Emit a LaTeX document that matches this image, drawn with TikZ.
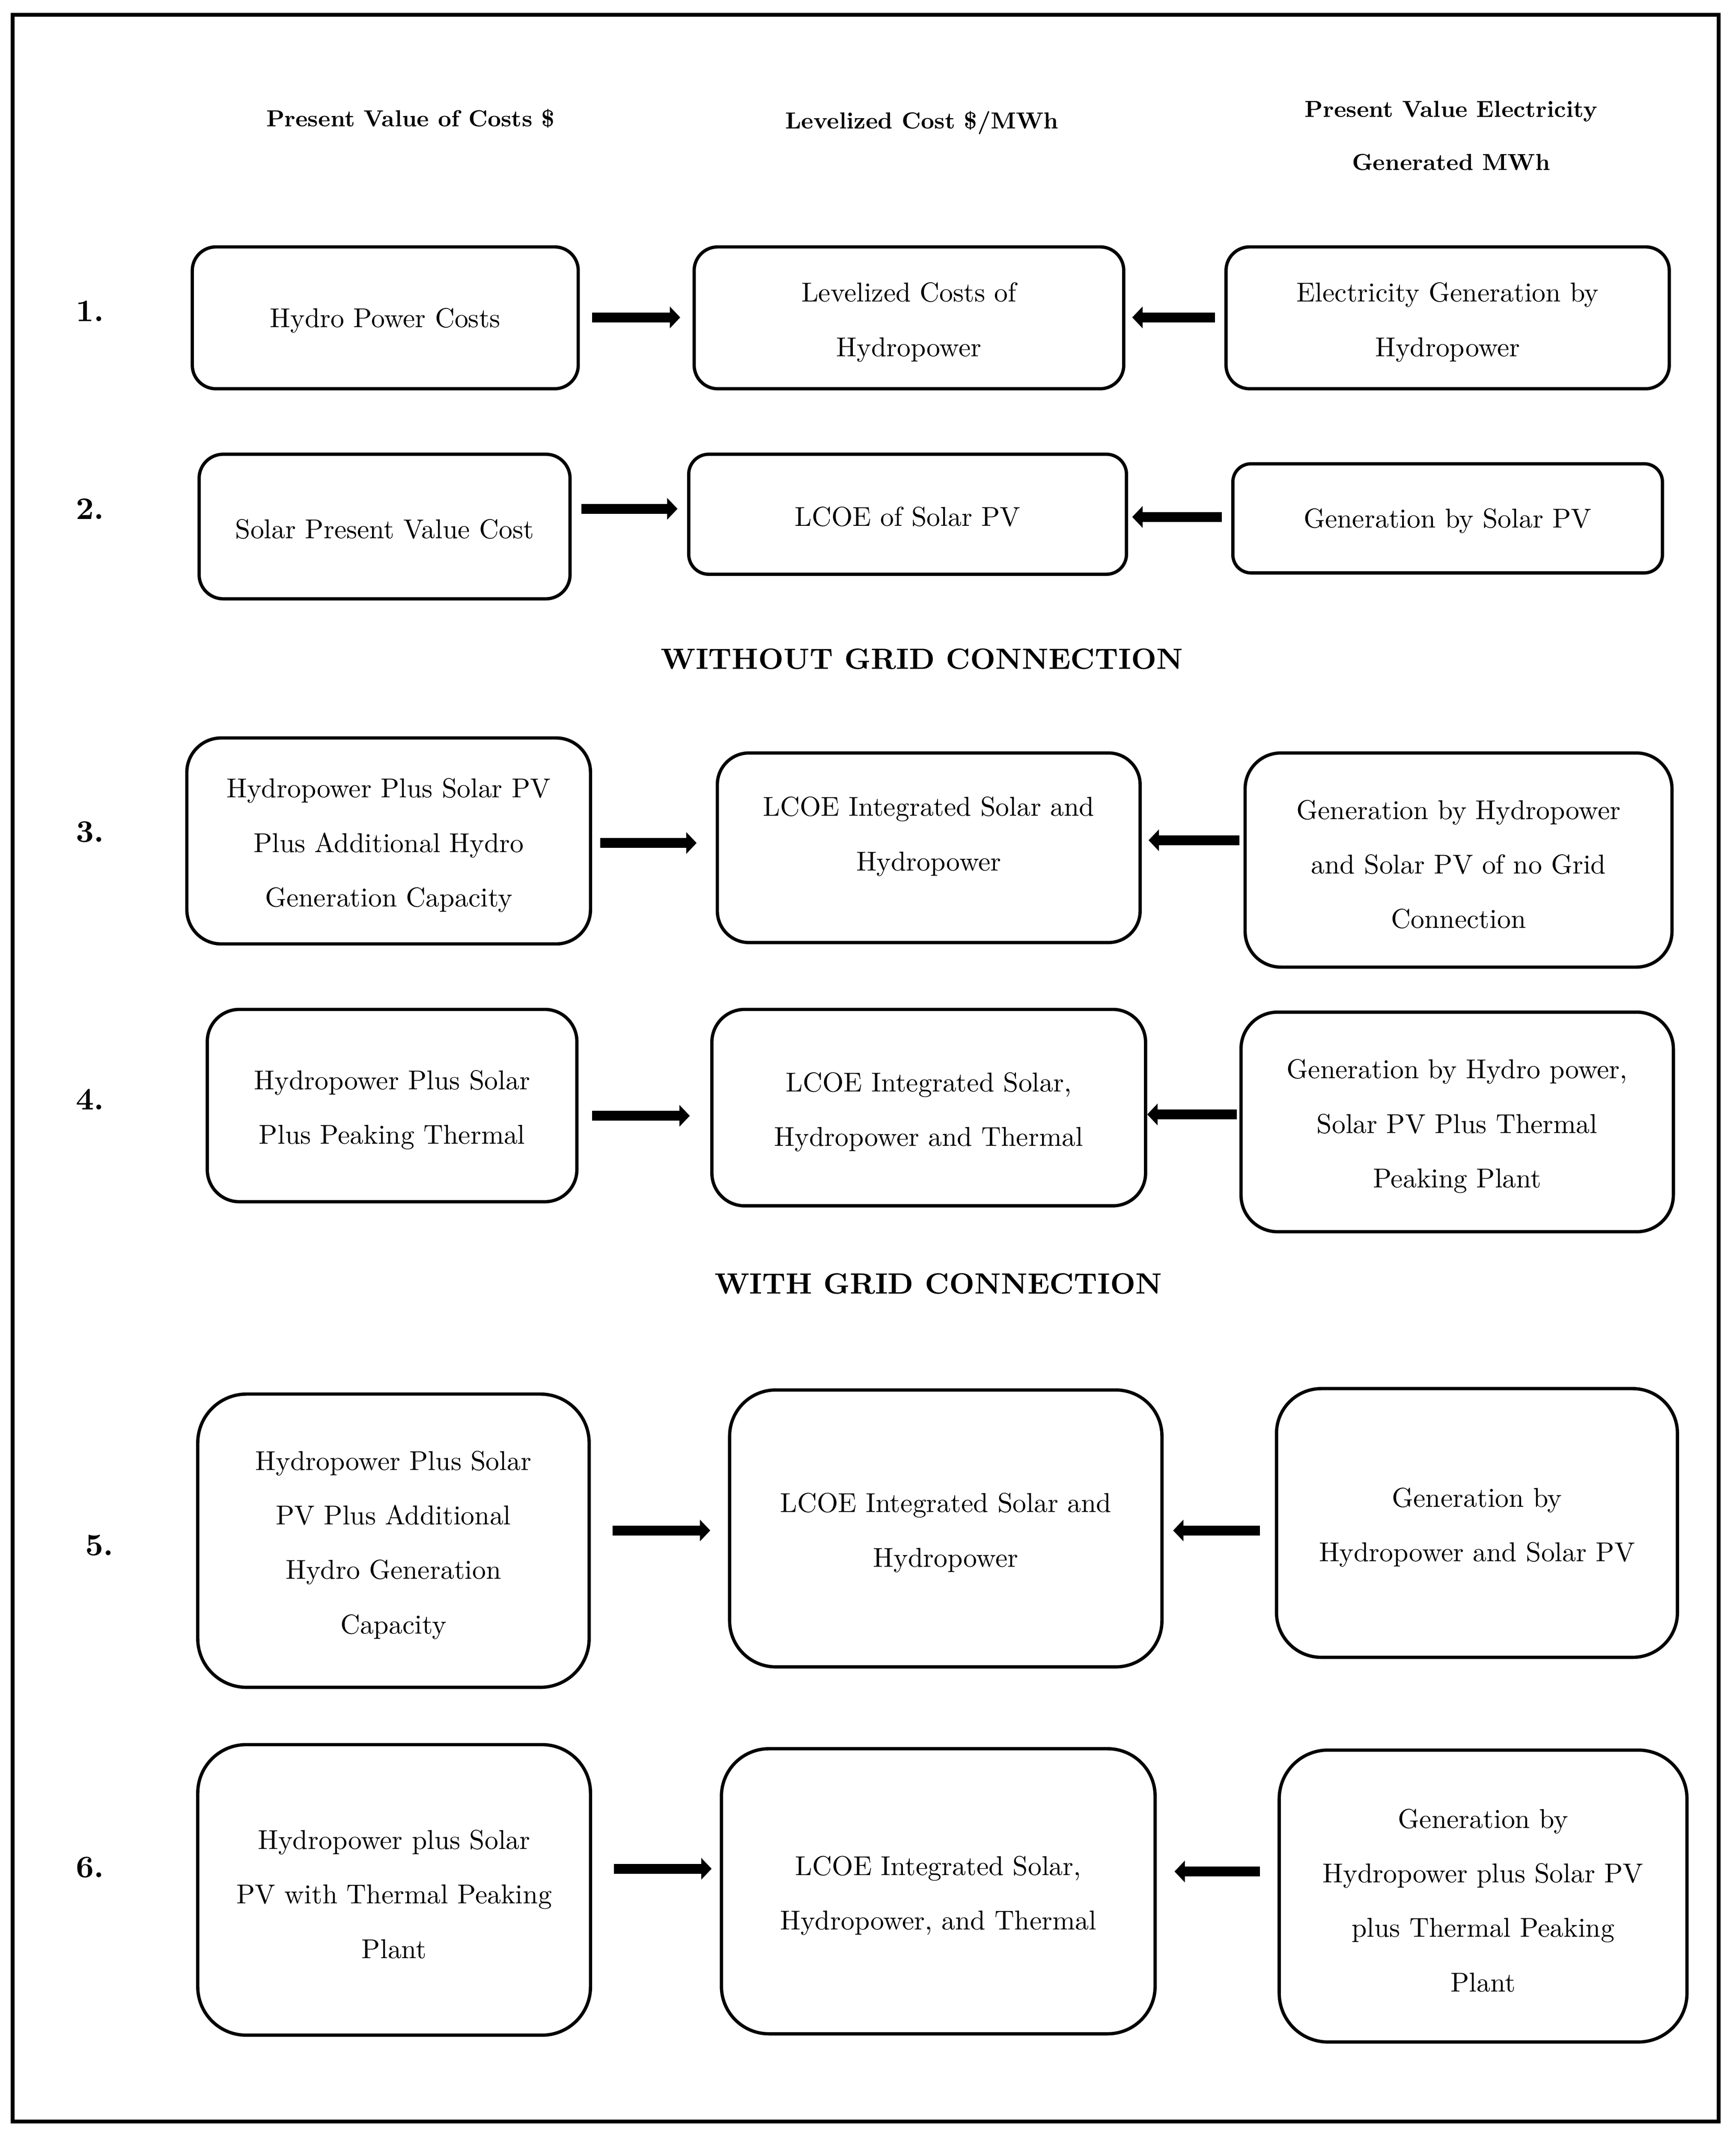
\documentclass[tikz,border=0pt]{standalone}
\usepackage{fontspec}
\setmainfont{lmroman10-regular.otf}[BoldFont=lmroman10-bold.otf]
\usetikzlibrary{arrows.meta}
\newcommand{\mstrut}{\rule{0pt}{20.5pt}}
\newcommand{\sstrut}{\rule{0pt}{18pt}}
\begin{document}
\begin{tikzpicture}[x=1pt,y=-1pt,
  box/.style={draw, line width=2.4pt, rectangle, inner sep=0pt, align=center,
              font=\fontsize{20}{40}\selectfont},
  bigarrow/.style={line width=7.1pt, -{Triangle[length=7.6pt,width=15.5pt]}},
  hdr/.style={font=\bfseries\fontsize{17}{39}\selectfont, align=center, inner sep=0pt},
  num/.style={font=\bfseries\fontsize{23}{26}\selectfont, inner sep=0pt},
  sect/.style={font=\bfseries\fontsize{21.5}{26}\selectfont, inner sep=0pt}]

\useasboundingbox (0,0) rectangle (1272.8,1569.6);
\draw[line width=2.8pt] (9.4,10.9) rectangle (1260.2,1555.4);

% column headers
\node[hdr] (h1) at (301,87) {Present Value of Costs \$};
\node[hdr] (h2) at (676,90) {Levelized Cost \$/MWh};
\node[hdr] (h3) at (1064,99.5) {Present Value Electricity\\Generated MWh};

% row numbers
\node[num] (n1) at (66,228) {1.};
\node[num] (n2) at (66,373) {2.};
\node[num] (n3) at (66,610) {3.};
\node[num] (n4) at (66,806) {4.};
\node[num] (n5) at (73,1133) {5.};
\node[num] (n6) at (66,1369) {6.};

% section titles
\node[sect] (s1) at (676,483) {WITHOUT GRID CONNECTION};
\node[sect] (s2) at (688,941) {WITH GRID CONNECTION};

% row 1
\node[box, minimum width=283pt, minimum height=104pt, rounded corners=17.3pt] (A1) at (282.5,233) {\sstrut Hydro Power Costs};
\node[box, minimum width=315pt, minimum height=104pt, rounded corners=17.3pt] (B1) at (666.5,233) {\mstrut Levelized Costs of\\Hydropower};
\node[box, minimum width=325pt, minimum height=104pt, rounded corners=17.3pt] (C1) at (1061.5,233) {\mstrut Electricity Generation by\\Hydropower};

% row 2
\node[box, minimum width=272pt, minimum height=106pt, rounded corners=17.7pt] (A2) at (282,386) {\sstrut Solar Present Value Cost};
\node[box, minimum width=321pt, minimum height=88pt, rounded corners=14.7pt] (B2) at (665.5,377) {\sstrut LCOE of Solar PV};
\node[box, minimum width=315pt, minimum height=80pt, rounded corners=13.3pt] (C2) at (1061.5,380) {\sstrut Generation by Solar PV};

% row 3
\node[box, minimum width=296pt, minimum height=151pt, rounded corners=25.2pt] (A3) at (285,616.5) {\mstrut Hydropower Plus Solar PV\\Plus Additional Hydro\\Generation Capacity};
\node[box, minimum width=310pt, minimum height=139pt, rounded corners=23.2pt] (B3) at (681,621.5) {\mstrut LCOE Integrated Solar and\\Hydropower\\[-13pt]\mbox{}};
\node[box, minimum width=313pt, minimum height=157pt, rounded corners=26.2pt] (C3) at (1069.5,630.5) {\mstrut Generation by Hydropower\\and Solar PV of no Grid\\Connection};

% row 4
\node[box, minimum width=271pt, minimum height=141pt, rounded corners=23.5pt] (A4) at (287.5,810.5) {\mstrut Hydropower Plus Solar\\Plus Peaking Thermal};
\node[box, minimum width=318pt, minimum height=144pt, rounded corners=24pt] (B4) at (681,812) {\mstrut LCOE Integrated Solar,\\Hydropower and Thermal};
\node[box, minimum width=317pt, minimum height=161pt, rounded corners=26.8pt] (C4) at (1068.5,822.5) {\mstrut Generation by Hydro power,\\Solar PV Plus Thermal\\Peaking Plant};

% row 5
\node[box, minimum width=287pt, minimum height=215pt, rounded corners=35.8pt] (A5) at (288.5,1129.5) {\mstrut Hydropower Plus Solar\\PV Plus Additional\\Hydro Generation\\Capacity};
\node[box, minimum width=317pt, minimum height=203pt, rounded corners=33.8pt] (B5) at (693.5,1120.5) {\mstrut LCOE Integrated Solar and\\Hydropower};
\node[box, minimum width=294pt, minimum height=197pt, rounded corners=32.8pt] (C5) at (1083,1116.5) {\mstrut Generation by\\Hydropower and Solar PV};

% row 6
\node[box, minimum width=288pt, minimum height=213pt, rounded corners=35.5pt] (A6) at (289,1385.5) {\mstrut Hydropower plus Solar\\PV with Thermal Peaking\\Plant};
\node[box, minimum width=318pt, minimum height=209pt, rounded corners=34.8pt] (B6) at (688,1386.5) {\mstrut LCOE Integrated Solar,\\Hydropower, and Thermal};
\node[box, minimum width=299pt, minimum height=214pt, rounded corners=35.7pt] (C6) at (1087.5,1390) {\mstrut Generation by\\Hydropower plus Solar PV\\plus Thermal Peaking\\Plant};

% arrow heights
\coordinate (y1) at (0,232.7);
\coordinate (y2l) at (0,373);
\coordinate (y2r) at (0,379);
\coordinate (y3l) at (0,618);
\coordinate (y3r) at (0,616);
\coordinate (y4l) at (0,818);
\coordinate (y4r) at (0,817);
\coordinate (y5) at (0,1122);
\coordinate (y6l) at (0,1370);
\coordinate (y6r) at (0,1372);

% arrows
\draw[bigarrow, shorten <=9pt, shorten >=9pt] (A1.east |- y1) -- (B1.west |- y1);
\draw[bigarrow, shorten <=7pt, shorten >=5pt] (C1.west |- y1) -- (B1.east |- y1);
\draw[bigarrow, shorten <=7pt, shorten >=7pt] (A2.east |- y2l) -- (B2.west |- y2l);
\draw[bigarrow, shorten <=7pt, shorten >=3pt] (C2.west |- y2r) -- (B2.east |- y2r);
\draw[bigarrow, shorten <=6pt, shorten >=14pt] (A3.east |- y3l) -- (B3.west |- y3l);
\draw[bigarrow, shorten <=3pt, shorten >=5pt] (C3.west |- y3r) -- (B3.east |- y3r);
\draw[bigarrow, shorten <=10pt, shorten >=15pt] (A4.east |- y4l) -- (B4.west |- y4l);
\draw[bigarrow, shorten <=2pt, shorten >=0pt] (C4.west |- y4r) -- (B4.east |- y4r);
\draw[bigarrow, shorten <=16pt, shorten >=13pt] (A5.east |- y5) -- (B5.west |- y5);
\draw[bigarrow, shorten <=11pt, shorten >=7pt] (C5.west |- y5) -- (B5.east |- y5);
\draw[bigarrow, shorten <=16pt, shorten >=6pt] (A6.east |- y6l) -- (B6.west |- y6l);
\draw[bigarrow, shorten <=13pt, shorten >=13pt] (C6.west |- y6r) -- (B6.east |- y6r);
\end{tikzpicture}
\end{document}
